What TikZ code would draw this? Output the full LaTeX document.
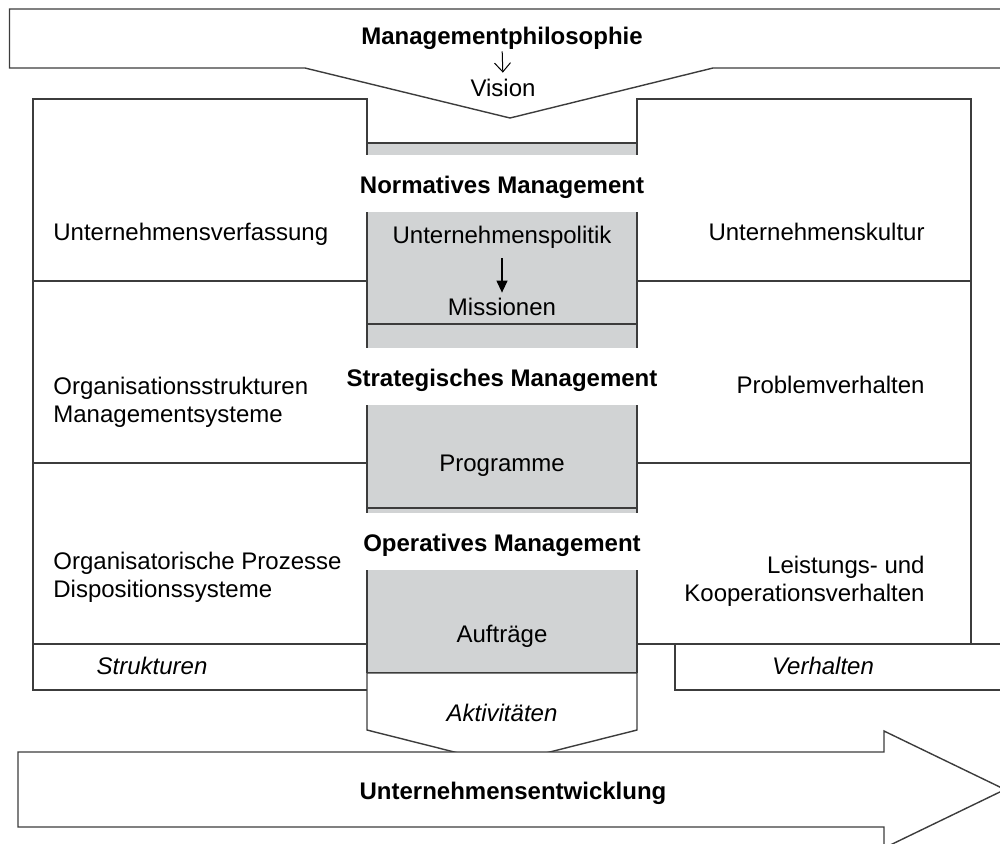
\documentclass[tikz,border=0pt]{standalone}
\usepackage{fontspec}
\setmainfont{Liberation Sans}
\usetikzlibrary{arrows.meta}
\definecolor{band}{RGB}{209,211,212}
\definecolor{rule}{RGB}{60,60,60}
\begin{document}
\begin{tikzpicture}[x=0.5pt,y=-0.5pt,
  frame/.style={draw=rule,line width=0.7pt,line join=miter},
  bandfill/.style={fill=band,draw=none},
  lbl/.style={inner sep=0pt,text height=8.6pt,text depth=0pt,
    font=\fontsize{12}{14}\selectfont},
  head/.style={lbl,font=\fontsize{12}{14}\selectfont\bfseries},
  note/.style={lbl,font=\fontsize{12}{14}\selectfont\itshape},
  leftcol/.style={lbl,anchor=west,align=left},
  rightcol/.style={lbl,anchor=east,align=right}]
\useasboundingbox (0,0) rectangle (1000,843);

% top band with the V pointing into the centre column
\draw[frame,fill=white] (9.5,9) -- (1012,9) -- (1012,68) -- (713,68) -- (510,118)
  -- (305,68) -- (9.5,68) -- cycle;

% left block: Strukturen
\draw[frame] (367,143) -- (367,99) -- (33,99) -- (33,690) -- (367,690);
\draw[frame] (33,281) -- (367,281);
\draw[frame] (33,463) -- (367,463);
\draw[frame] (33,644) -- (367,644);

% right block: Verhalten
\draw[frame] (637,143) -- (637,99) -- (971,99) -- (971,644);
\draw[frame] (637,281) -- (971,281);
\draw[frame] (637,463) -- (971,463);
\draw[frame] (637,644) -- (1012,644);
\draw[frame] (1012,690) -- (675,690) -- (675,644);

% grey centre column, interrupted by the level headings
\foreach \ya/\yb in {143/155, 212/348, 405/513, 570/673}{
  \fill[bandfill] (367,\ya) rectangle (637,\yb);
  \draw[frame] (367,\ya) -- (367,\yb);
  \draw[frame] (637,\ya) -- (637,\yb);
}
\foreach \yy in {143,324,508,673}{
  \draw[frame] (367,\yy) -- (637,\yy);
}

% Aktivitaeten pentagon below the column
\draw[frame,fill=white] (367,673) -- (637,673) -- (637,730) -- (502,764) -- (367,730) -- cycle;

% bottom arrow
\draw[frame,fill=white] (18,752) -- (884,752) -- (884,731) -- (1005,789.5) -- (884,848)
  -- (884,827) -- (18,827) -- cycle;

% texts
\node[head] (phil) at (502,36) {Managementphilosophie};
\node[lbl] (vision) at (503,88) {Vision};
\draw[line width=0.5pt,-{Straight Barb[length=4.5pt,width=8pt]},
  shorten <=3.2pt,shorten >=3.2pt] (phil.south) -- (vision.north);

\node[head] (norm) at (502,185) {Normatives Management};
\node[lbl] (politik) at (502,235) {Unternehmenspolitik};
\node[lbl] (mission) at (502,307) {Missionen};
\draw[line width=0.6pt,-{Triangle[length=6pt,width=5.5pt]},
  shorten <=7.2pt,shorten >=2.7pt] (politik.south) -- (mission.north);

\node[head] (strat) at (502,378) {Strategisches Management};
\node[lbl] (prog) at (502,463) {Programme};
\node[head] (oper) at (502,543) {Operatives Management};
\node[lbl] (auftr) at (502,634) {Aufträge};
\node[note] (akt) at (502,713) {Aktivitäten};

\node[leftcol] (verf) at (53,232) {Unternehmensverfassung};
\node[leftcol] (orgs) at (53,414) {Organisationsstrukturen\\Managementsysteme};
\node[leftcol] (orgp) at (53,589) {Organisatorische Prozesse\\Dispositionssysteme};
\node[note] (strukt) at (152,666) {Strukturen};

\node[rightcol] (kultur) at (925,232) {Unternehmenskultur};
\node[rightcol] (problem) at (925,385) {Problemverhalten};
\node[rightcol] (leist) at (925,593) {Leistungs- und\\Kooperationsverhalten};
\node[note] (verh) at (823,666) {Verhalten};

\node[head] (entw) at (513,791) {Unternehmensentwicklung};
\end{tikzpicture}
\end{document}
